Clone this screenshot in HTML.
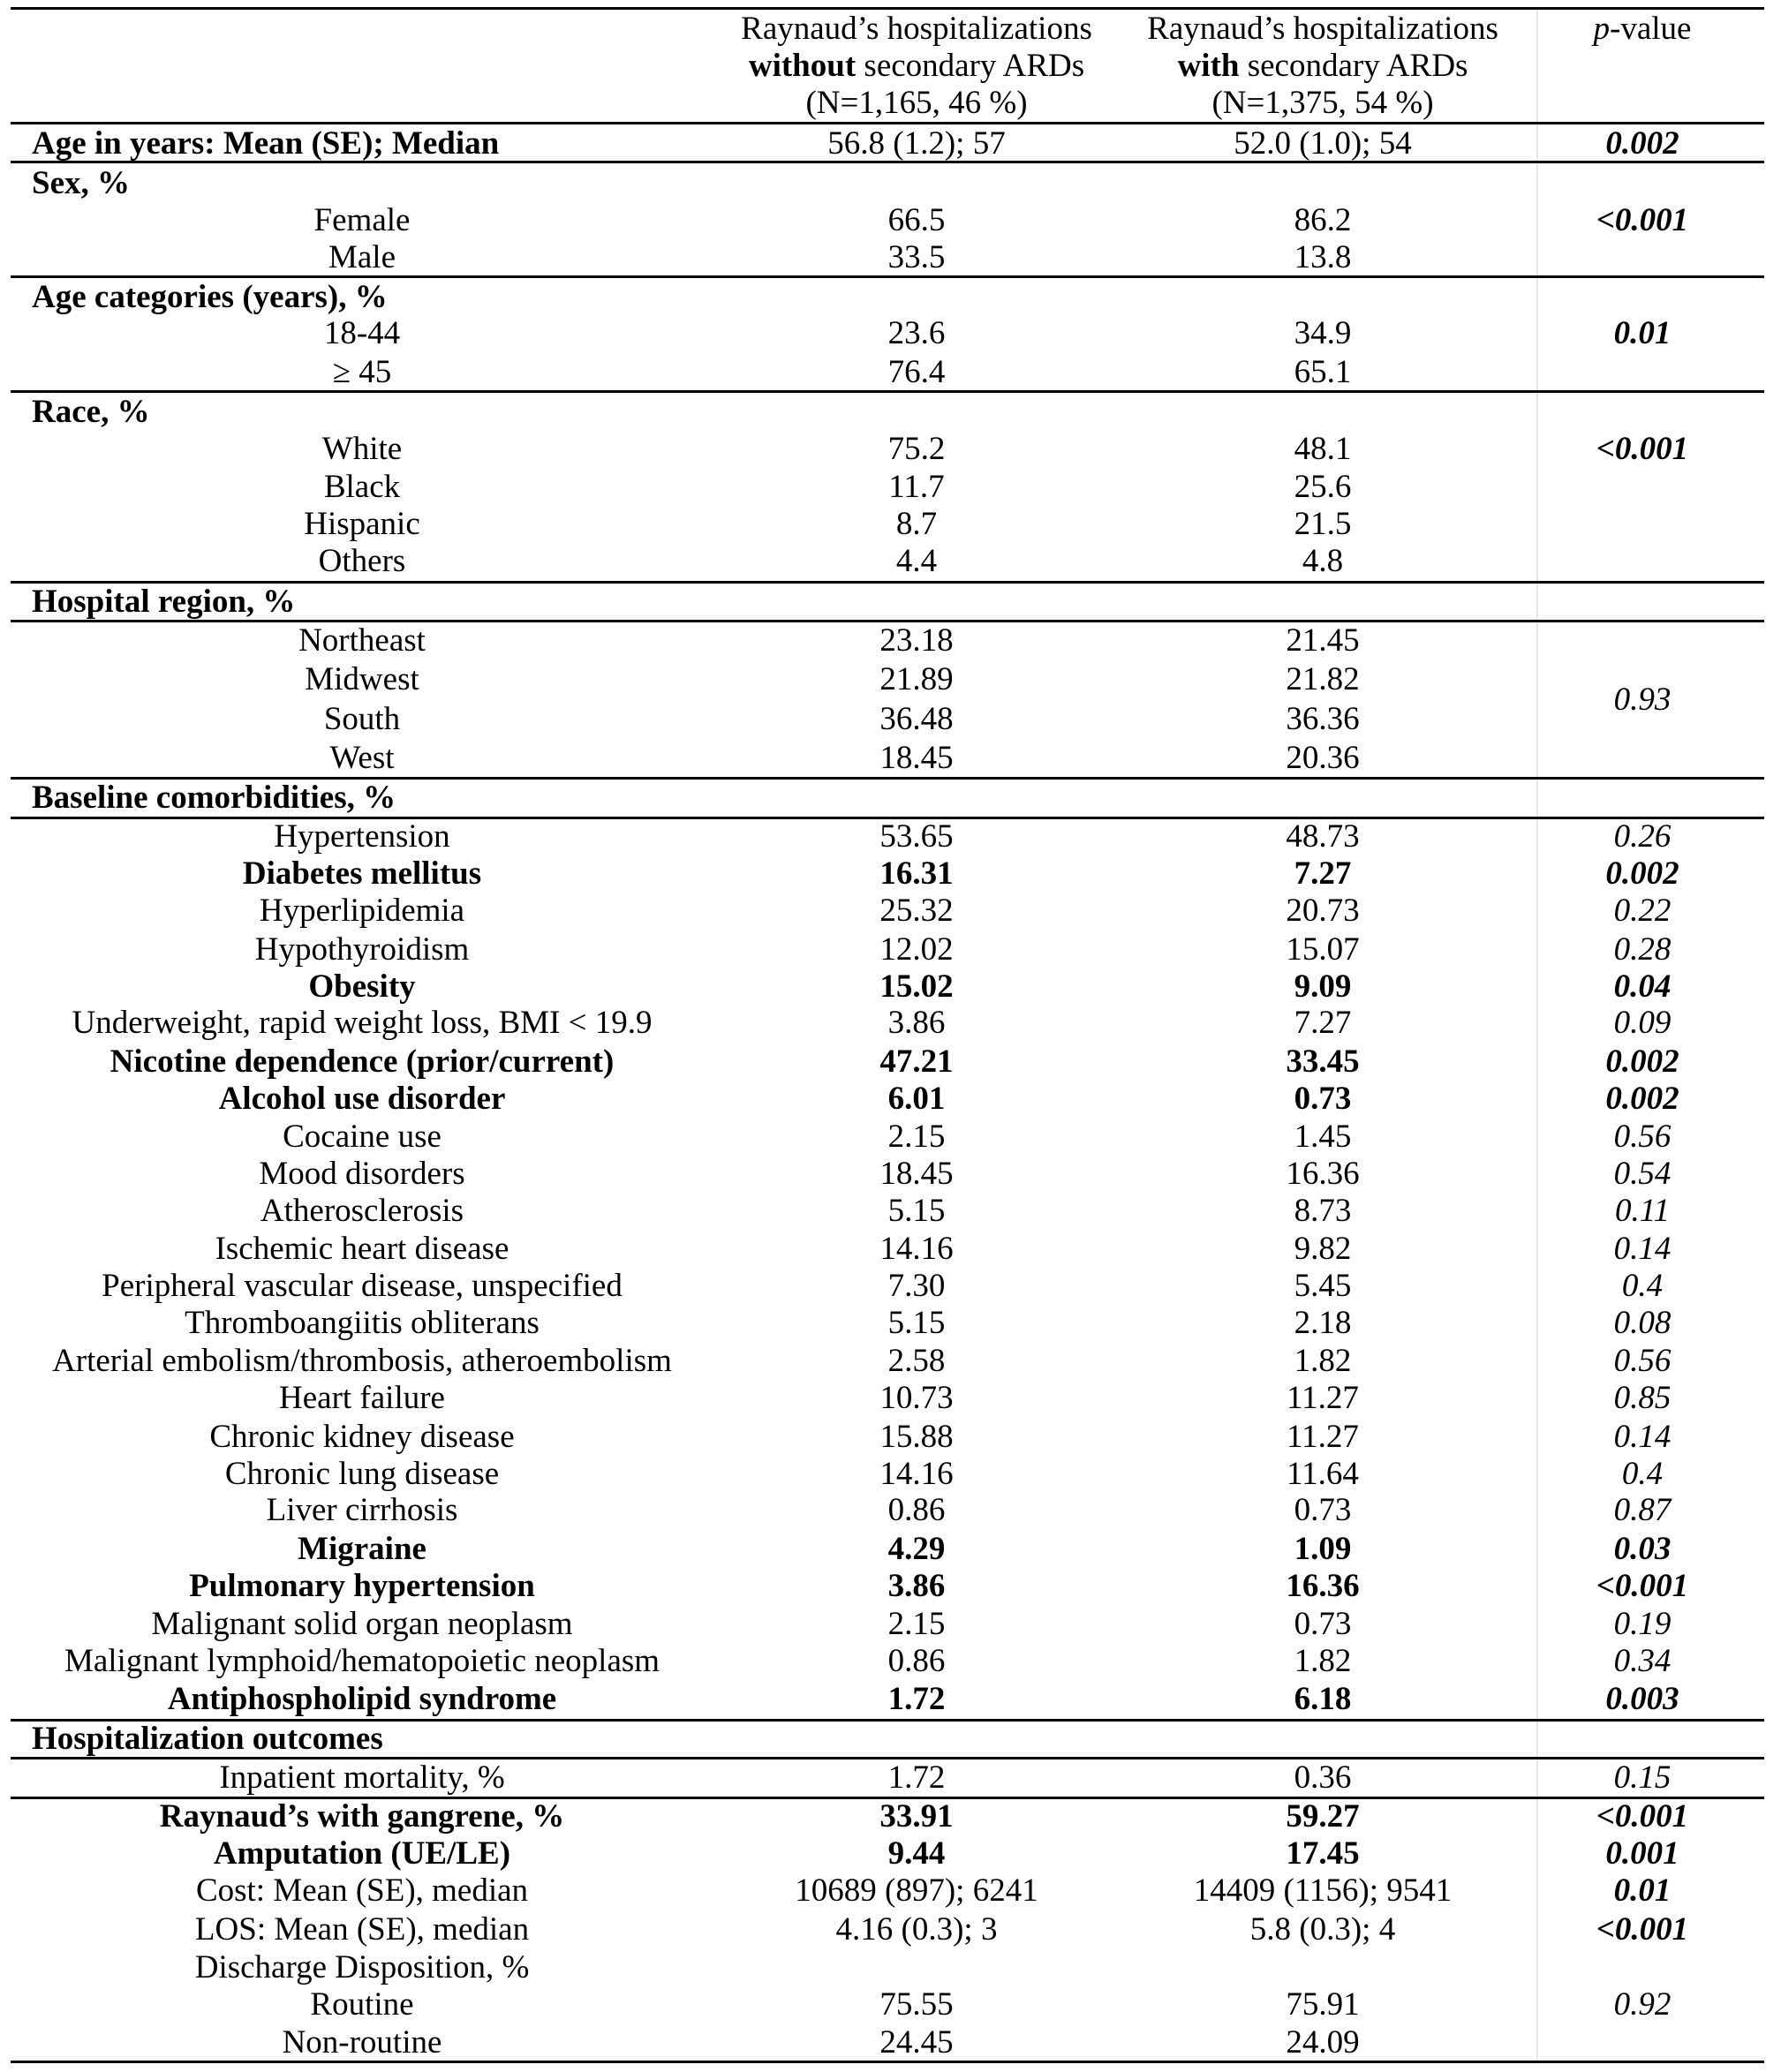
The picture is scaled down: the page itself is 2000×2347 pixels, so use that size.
<!DOCTYPE html>
<html><head><meta charset="utf-8">
<style>
html,body{margin:0;padding:0;background:#fff;}
#t{position:relative;width:2000px;height:2347px;overflow:hidden;font-family:"Liberation Serif","Times New Roman",serif;font-size:37px;color:#000;}
.c{position:absolute;line-height:42px;white-space:nowrap;transform:translateX(-50%);}
.l{position:absolute;line-height:42px;white-space:nowrap;font-weight:bold;}
.hl{position:absolute;left:12px;width:1986px;height:3px;background:#000;}
.vl{position:absolute;top:9px;width:2px;height:2328px;background:#e6e6e6;}
</style></head>
<body>
<div id="t">
<div class="vl" style="left:1740px"></div>
</div>
<script>
const S=1.496;
const X={lab:410,a:1038,b:1498,p:1860,left:36};
const headerLines=[["Raynaud\u2019s hospitalizations","Raynaud\u2019s hospitalizations",""],["<b>without</b> secondary ARDs","<b>with</b> secondary ARDs",""],["(N=1,165, 46 %)","(N=1,375, 54 %)",""]];
const headerY=[22,50,78];
const lineYs=[9,139,183,313,443,659,703,881,926,1948,1991,2036,2335];
const rows=[
[109,"Age in years: Mean (SE); Median","56.8 (1.2); 57","52.0 (1.0); 54","0.002",2,1],
[139,"Sex, %","","","",0,1],
[167,"Female","66.5","86.2","<0.001",3,0],
[195,"Male","33.5","13.8","",0,0],
[225,"Age categories (years), %","","","",0,1],
[253,"18-44","23.6","34.9","0.01",3,0],
[282,"\u2265 45","76.4","65.1","",0,0],
[312,"Race, %","","","",0,1],
[340,"White","75.2","48.1","<0.001",3,0],
[369,"Black","11.7","25.6","",0,0],
[397,"Hispanic","8.7","21.5","",0,0],
[425,"Others","4.4","4.8","",0,0],
[456,"Hospital region, %","","","",0,1],
[485,"Northeast","23.18","21.45","",0,0],
[515,"Midwest","21.89","21.82","",0,0],
[545,"South","36.48","36.36","",0,0],
[574,"West","18.45","20.36","",0,0],
[530,"","","","0.93",0,0],
[604,"Baseline comorbidities, %","","","",0,1],
[634,"Hypertension","53.65","48.73","0.26",0,0],
[662,"Diabetes mellitus","16.31","7.27","0.002",1,0],
[690,"Hyperlipidemia","25.32","20.73","0.22",0,0],
[719,"Hypothyroidism","12.02","15.07","0.28",0,0],
[747,"Obesity","15.02","9.09","0.04",1,0],
[775,"Underweight, rapid weight loss, BMI < 19.9","3.86","7.27","0.09",0,0],
[804,"Nicotine dependence (prior/current)","47.21","33.45","0.002",1,0],
[832,"Alcohol use disorder","6.01","0.73","0.002",1,0],
[861,"Cocaine use","2.15","1.45","0.56",0,0],
[889,"Mood disorders","18.45","16.36","0.54",0,0],
[917,"Atherosclerosis","5.15","8.73","0.11",0,0],
[946,"Ischemic heart disease","14.16","9.82","0.14",0,0],
[974,"Peripheral vascular disease, unspecified","7.30","5.45","0.4",0,0],
[1002,"Thromboangiitis obliterans","5.15","2.18","0.08",0,0],
[1031,"Arterial embolism/thrombosis, atheroembolism","2.58","1.82","0.56",0,0],
[1059,"Heart failure","10.73","11.27","0.85",0,0],
[1088,"Chronic kidney disease","15.88","11.27","0.14",0,0],
[1116,"Chronic lung disease","14.16","11.64","0.4",0,0],
[1144,"Liver cirrhosis","0.86","0.73","0.87",0,0],
[1173,"Migraine","4.29","1.09","0.03",1,0],
[1201,"Pulmonary hypertension","3.86","16.36","<0.001",1,0],
[1230,"Malignant solid organ neoplasm","2.15","0.73","0.19",0,0],
[1258,"Malignant lymphoid/hematopoietic neoplasm","0.86","1.82","0.34",0,0],
[1287,"Antiphospholipid syndrome","1.72","6.18","0.003",1,0],
[1317,"Hospitalization outcomes","","","",0,1],
[1346,"Inpatient mortality, %","1.72","0.36","0.15",0,0],
[1376,"Raynaud\u2019s with gangrene, %","33.91","59.27","<0.001",1,0],
[1404,"Amputation (UE/LE)","9.44","17.45","0.001",1,0],
[1432,"Cost: Mean (SE), median","10689 (897); 6241","14409 (1156); 9541","0.01",3,0],
[1461,"LOS: Mean (SE), median","4.16 (0.3); 3","5.8 (0.3); 4","<0.001",3,0],
[1490,"Discharge Disposition, %","","","",0,0],
[1518,"Routine","75.55","75.91","0.92",0,0],
[1547,"Non-routine","24.45","24.09","",0,0]
];
const t=document.getElementById('t');
function txt(cls,x,y,html,name){
  const d=document.createElement('div');
  d.className=cls;
  d.style.left=x+'px';
  d.style.top=(y*S-21)+'px';
  d.innerHTML=html;
  
  
  t.appendChild(d);
  return d;
}
lineYs.forEach(y=>{
  const d=document.createElement('div');
  d.className='hl';
  d.style.top=(y-1)+'px';
  
  
  t.appendChild(d);
});
headerLines.forEach((h,i)=>{
  txt('c',X.a,headerY[i],h[0],'header-without-ards');
  txt('c',X.b,headerY[i],h[1],'header-with-ards');
});
txt('c',X.p,headerY[0],'<i>p</i>-value','header-p-value');
rows.forEach(r=>{
  const [y,lab,a,b,p,bold,sec]=r;
  const esc=s=>s.replace(/&/g,'&amp;').replace(/</g,'&lt;');
  if(lab){
    if(sec){txt('l',X.left,y,esc(lab),'section-header');}
    else{const d=txt('c',X.lab,y,esc(lab),'row-label'); if(bold===1) d.style.fontWeight='bold';}
  }
  if(a){const d=txt('c',X.a,y,esc(a),'value-without-ards'); if(bold===1) d.style.fontWeight='bold';}
  if(b){const d=txt('c',X.b,y,esc(b),'value-with-ards'); if(bold===1) d.style.fontWeight='bold';}
  if(p){const d=txt('c',X.p,y,esc(p),'p-value'); d.style.fontStyle='italic'; if(bold) d.style.fontWeight='bold';}
});
</script>
</body></html>
